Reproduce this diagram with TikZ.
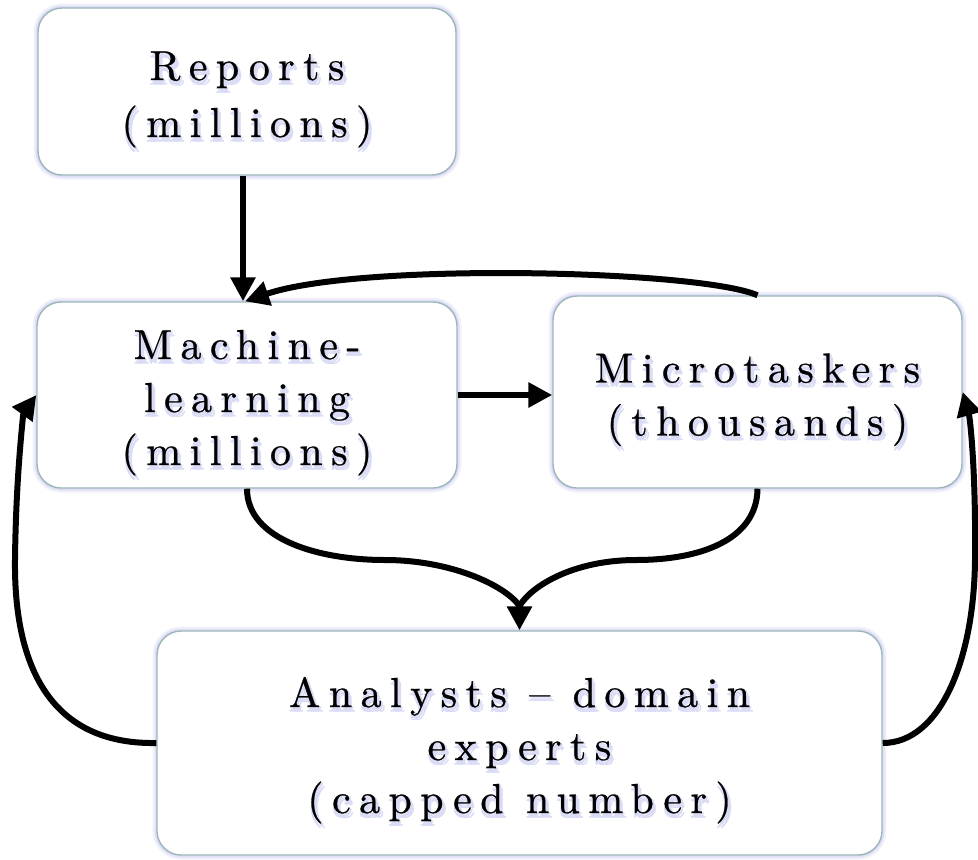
\documentclass[tikz,border=0pt]{standalone}
\usepackage{fontspec}
\newfontfamily\boxfont{lmroman10-regular.otf}[LetterSpace=20,FakeBold=0.6]
\usetikzlibrary{arrows.meta,calc}
\definecolor{boxline}{RGB}{155,182,184}
\definecolor{glow}{RGB}{200,200,240}
\definecolor{tshadow}{RGB}{218,220,246}
\newcommand\sh[1]{\leavevmode
  \rlap{\kern1.5pt\raisebox{-3pt}{\color{tshadow}#1}}%
  \rlap{\kern3.5pt\raisebox{-4.5pt}{\color{tshadow}#1}}%
  \rlap{\kern-0.5pt\raisebox{-4.5pt}{\color{tshadow}#1}}%
  \rlap{\kern2pt\raisebox{-1pt}{\color{tshadow}#1}}#1}
\newcommand\topstrut{\rule{0pt}{49pt}}
\tikzset{
  box/.style={draw=boxline, line width=1.4pt, rounded corners=24pt, fill=white,
    align=center, inner sep=0pt,
    font=\boxfont\fontsize{42}{53}\selectfont,
    preaction={draw=glow, line width=9pt, opacity=0.25},
    preaction={draw=glow, line width=5pt, opacity=0.45}},
  conn/.style={line width=6pt, -{Triangle[length=24pt,width=24pt]}},
  plain/.style={line width=6pt}
}
\begin{document}
\begin{tikzpicture}[x=1pt,y=-1pt]
\useasboundingbox (0,0) rectangle (978,860);
\node[box, font=\boxfont\fontsize{42}{57}\selectfont, minimum width=418pt, minimum height=167pt] (rep) at (247,91.5) {\topstrut\sh{Reports}\\\sh{(millions)}};
\node[box, minimum width=420pt, minimum height=186pt] (ml) at (247,395) {\topstrut\sh{Machine-}\\\sh{learning}\\\sh{(millions)}};
\node[box, minimum width=409pt, minimum height=192pt] (mt) at (757.5,392) {\topstrut\sh{Microtaskers}\\\sh{(thousands)}};
\node[box, minimum width=725pt, minimum height=224pt] (an) at (519.5,743) {\topstrut\sh{Analysts – domain}\\\sh{experts}\\\sh{(capped number)}};

\draw[conn] ([xshift=-4pt]rep.south) -- ([xshift=-4pt]ml.north);
\draw[conn] (mt.north) .. controls (700,270) and (360,262) .. ([xshift=-2pt]ml.north);
\draw[conn] (ml.east) -- (ml.east -| mt.west);
\coordinate (join) at (519.5,606);
\draw[plain] (ml.south) .. controls (247,540) and (320,560) .. (385,560) .. controls (450,560) and (505,585) .. (join);
\draw[plain] (mt.south) .. controls (757,540) and (700,560) .. (636,560) .. controls (575,560) and (532,585) .. (join);
\draw[conn] (join) -- (an.north);
\draw[conn] (an.west) .. controls (40,745) and (14,650) .. (15,560) .. controls (16,470) and (24,412) .. (ml.west);
\draw[conn] (an.east) .. controls (940,743) and (974,660) .. (975,560) .. controls (976,470) and (970,418) .. (mt.east);
\end{tikzpicture}
\end{document}
